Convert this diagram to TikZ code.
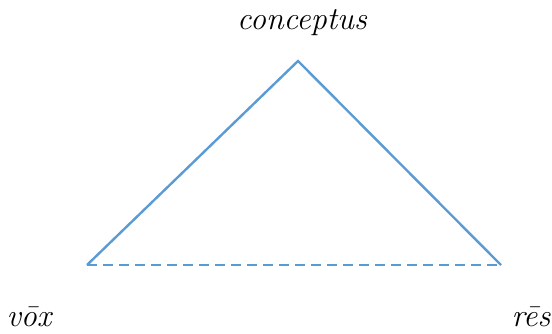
\documentclass[tikz,border=0pt]{standalone}
\usepackage{fontspec}
\usetikzlibrary{positioning}

\definecolor{officeblue}{RGB}{91,155,213}

\begin{document}
\begin{tikzpicture}[
    x=1pt, y=-1pt,
    edge_line/.style={draw=officeblue, line width=2.4pt},
    label_text/.style={font=\fontsize{32}{38}\selectfont\itshape, text=black, inner sep=0pt, anchor=base}
    ]
    \useasboundingbox (0,0) rectangle (552,333);
    % Corners
    \coordinate (apex) at (298,61);
    \coordinate (left) at (87,265);
    \coordinate (right) at (501,265);

    % Labels
    \node[label_text] (conceptus) at (302,29) {conceptus};
    \node[label_text] (vox) at (29,326) {vōx};
    \node[label_text] (res) at (531,326) {rēs};

    % Edges
    \draw[edge_line] (left) -- (apex) -- (right);
    \draw[edge_line, dash pattern=on 10pt off 6pt] (left) -- (right);
\end{tikzpicture}
\end{document}
